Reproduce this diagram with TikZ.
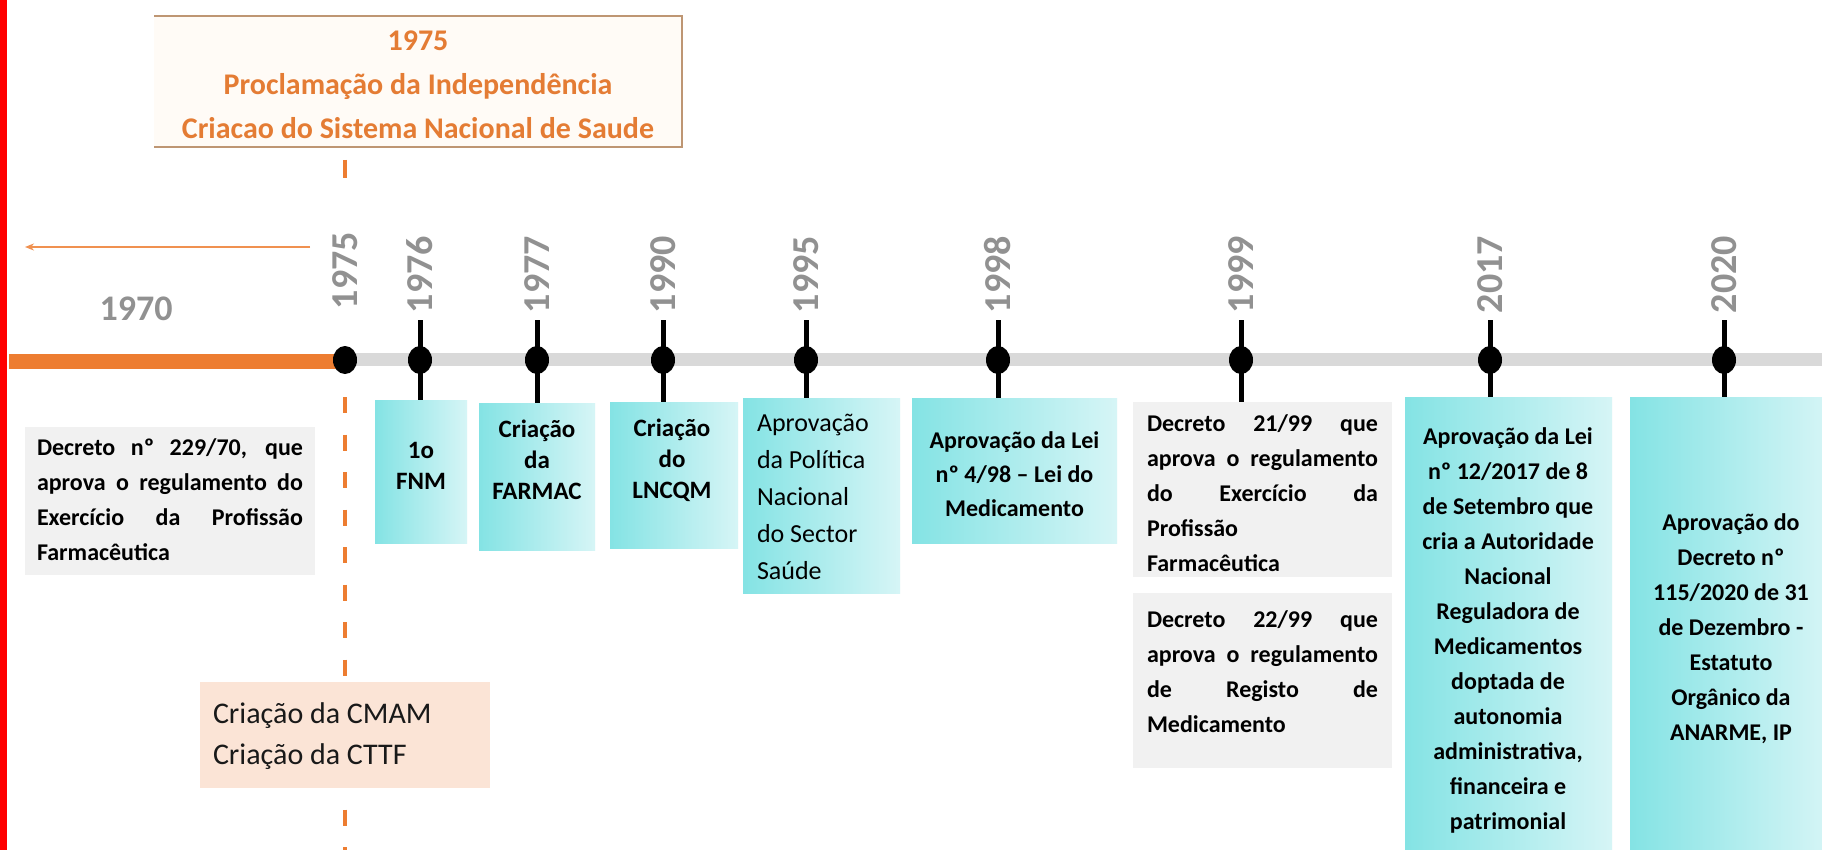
\documentclass[tikz,border=0pt]{standalone}
\usepackage{fontspec}
\setmainfont{Carlito}
\usetikzlibrary{shapes.geometric,arrows.meta}
\definecolor{ora}{RGB}{237,125,49}
\definecolor{oratext}{RGB}{228,124,52}
\definecolor{yeargray}{RGB}{145,145,145}
\definecolor{bargray}{RGB}{217,217,217}
\definecolor{boxgray}{RGB}{241,241,241}
\definecolor{peach}{RGB}{251,228,214}
\definecolor{tealA}{RGB}{132,227,228}
\definecolor{tealB}{RGB}{214,245,246}
\definecolor{topedge}{RGB}{190,150,115}
\definecolor{topfill}{RGB}{255,251,246}
\newcommand\jl[2]{\makebox[#1][s]{#2}}
\begin{document}
\begin{tikzpicture}[x=1pt,y=-1pt,
  every node/.style={inner sep=0pt, outer sep=0pt},
  evbox/.style={rectangle, draw=none},
  tealbox/.style={evbox, left color=tealA, right color=tealB},
  graybox/.style={evbox, fill=boxgray},
  peachbox/.style={evbox, fill=peach},
  yearlbl/.style={rotate=90, anchor=west, text=yeargray, font=\fontsize{38}{40}\selectfont\bfseries},
  dot/.style={ellipse, fill=black, minimum width=24pt, minimum height=28pt},
  tickln/.style={line width=5pt, black},
  odash/.style={ora, line width=4.5pt, dash pattern=on 16pt off 21.5pt},
  dtext/.style={font=\fontsize{24}{35}\selectfont\bfseries, align=left},
  ctext/.style={font=\fontsize{24}{35}\selectfont\bfseries, align=center},
  stext/.style={font=\fontsize{25}{31}\selectfont\bfseries, align=center},
  toptext/.style={font=\fontsize{30}{44}\selectfont\bfseries, align=center, text=oratext}
]
\useasboundingbox (0,0) rectangle (1822,850);
\fill[white] (0,0) rectangle (1822,850);
\fill[red] (0,0) rectangle (7,850);

% top box
\node[fill=topfill, minimum width=528pt, minimum height=131pt] (top) at (418,81.5) {};
\draw[topedge, line width=1.5pt] (top.north west) -- (top.north east) -- (top.south east) -- (top.south west);
\node[toptext] (toptxt) at (418,84.5) {1975\\Proclamação da Independência\\Criacao do Sistema Nacional de Saude};

% single dash under the top box
\coordinate (dA) at (345,160);
\coordinate (dB) at (345,178);
\draw[ora, line width=4.5pt] (dA) -- (dB);

% left arrow
\coordinate (arrS) at (310,247);
\coordinate (arrE) at (25,247);
\draw[ora!85, line width=2pt, -{Stealth[length=9pt,width=7pt]}] (arrS) -- (arrE);
\node[text=yeargray, font=\fontsize{36}{40}\selectfont\bfseries] (y1970) at (136,309) {1970};

% timeline
\coordinate (g0) at (345,359);
\coordinate (g1) at (1822,359);
\coordinate (o0) at (9,361);
\coordinate (o1) at (345,361);
\draw[bargray, line width=13pt] (g0) -- (g1);
\draw[ora, line width=15pt] (o0) -- (o1);

% dashed 1975 line
\coordinate (dtop) at (345,397);
\coordinate (dbot) at (345,850);
\draw[odash] (dtop) -- (dbot);

% boxes
\node[graybox, minimum width=290pt, minimum height=148pt] (b1970) at (170,501) {};
\node[tealbox, minimum width=92pt, minimum height=143pt] (b1976) at (421,471.5) {};
\node[tealbox, minimum width=116pt, minimum height=147pt] (b1977) at (537,476.5) {};
\node[tealbox, minimum width=128pt, minimum height=146pt] (b1990) at (674,475) {};
\node[tealbox, minimum width=157pt, minimum height=195pt] (b1995) at (821.5,495.5) {};
\node[tealbox, minimum width=205pt, minimum height=145pt] (b1998) at (1014.5,470.5) {};
\node[graybox, minimum width=259pt, minimum height=175pt] (b1999a) at (1262.5,489.5) {};
\node[graybox, minimum width=259pt, minimum height=175pt] (b1999b) at (1262.5,680.5) {};
\node[tealbox, minimum width=207pt, minimum height=453pt] (b2017) at (1508.5,623.5) {};
\node[tealbox, minimum width=200pt, minimum height=453pt] (b2020) at (1730,623.5) {};
\node[peachbox, minimum width=290pt, minimum height=106pt] (bcmam) at (345,735) {};

% ticks, dots, years
\foreach \x/\yr in {420/1976,537/1977,663/1990,806/1995,998/1998,1241/1999,1490/2017,1724/2020}{
  \coordinate (t\yr) at (\x,320);
  \node[yearlbl] (y\yr) at (\x,313) {\yr};
}
\node[yearlbl] (y1975) at (345,309) {1975};
\draw[tickln] (t1976) -- (b1976.north -| t1976);
\draw[tickln] (t1977) -- (b1977.north -| t1977);
\draw[tickln] (t1990) -- (b1990.north -| t1990);
\draw[tickln] (t1995) -- (b1995.north -| t1995);
\draw[tickln] (t1998) -- (b1998.north -| t1998);
\draw[tickln] (t1999) -- (b1999a.north -| t1999);
\draw[tickln] (t2017) -- (b2017.north -| t2017);
\draw[tickln] (t2020) -- (b2020.north -| t2020);
\node[dot] (d1975) at (345,360) {};
\foreach \x/\yr in {420/1976,537/1977,663/1990,806/1995,998/1998,1241/1999,1490/2017,1724/2020}{
  \node[dot] (d\yr) at (\x,360) {};
}

% texts
\node[dtext] (x1970) at (170,500) {\jl{266pt}{Decreto nº 229/70, que}\\\jl{266pt}{aprova o regulamento do}\\\jl{266pt}{Exercício da Profissão}\\Farmacêutica};
\node[stext] (x1976) at (421,466) {1o\\FNM};
\node[stext] (x1977) at (537,460) {Criação\\da\\FARMAC};
\node[stext] (x1990) at (672,460) {Criação\\do\\LNCQM};
\node[font=\fontsize{26}{37}\selectfont, align=left, anchor=west] (x1995) at (757,497) {Aprovação\\da Política\\Nacional\\do Sector\\Saúde};
\node[font=\fontsize{24}{34}\selectfont\bfseries, align=center] (x1998) at (1014.5,474) {Aprovação da Lei\\nº 4/98 – Lei do\\Medicamento};
\node[dtext] (x1999a) at (1262.5,493) {\jl{231pt}{Decreto 21/99 que}\\\jl{231pt}{aprova o regulamento}\\\jl{231pt}{do Exercício da}\\Profissão\\Farmacêutica};
\node[dtext] (x1999b) at (1262.5,672) {\jl{231pt}{Decreto 22/99 que}\\\jl{231pt}{aprova o regulamento}\\\jl{231pt}{de Registo de}\\Medicamento};
\node[ctext] (x2017) at (1508,630) {Aprovação da Lei\\nº 12/2017 de 8\\de Setembro que\\cria a Autoridade\\Nacional\\Reguladora de\\Medicamentos\\doptada de\\autonomia\\administrativa,\\financeira e\\patrimonial};
\node[ctext] (x2020) at (1731,629) {Aprovação do\\Decreto nº\\115/2020 de 31\\de Dezembro -\\Estatuto\\Orgânico da\\ANARME, IP};
\node[font=\fontsize{30}{41}\selectfont, align=left, anchor=west, text=black!90] (xcmam) at (213,736) {Criação da CMAM\\Criação da CTTF};
\end{tikzpicture}
\end{document}
